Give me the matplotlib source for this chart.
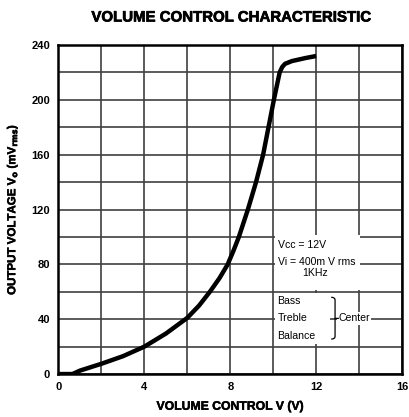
import matplotlib
matplotlib.use("Agg")
import matplotlib.pyplot as plt
from matplotlib.patches import Rectangle, PathPatch
from matplotlib.path import Path
import matplotlib.patheffects as pe

# Data
vol_ctrl = [0, 0.65, 1, 2, 3, 4, 5, 6, 6.55, 7.05, 7.5, 7.88, 8.15, 8.4, 8.82, 9.2, 9.53, 9.78, 10.03, 10.3, 10.42, 10.55, 10.87, 11.5, 12]
out_volt = [0, 0, 2.5, 7.5, 13, 20, 29.5, 41, 50, 60, 70, 80, 90, 100, 120, 140, 160, 180, 200, 220, 224, 226.3, 228.3, 230.5, 232]
x_ticks = [0, 4, 8, 12, 16]
y_ticks = [0, 40, 80, 120, 160, 200, 240]

plt.rcParams['font.family'] = ['Liberation Sans', 'DejaVu Sans']

fig = plt.figure(figsize=(4.09, 4.17), dpi=100)
ax = fig.add_axes([0.143, 0.103, 0.840, 0.789])

ax.set_xlim(0, 16)
ax.set_ylim(0, 240)
ax.set_xticks(x_ticks)
ax.set_yticks(y_ticks)
ax.set_xticks(range(0, 17, 2), minor=True)
ax.set_yticks(range(0, 241, 20), minor=True)
ax.grid(which='both', color='#404040', linewidth=1.2, zorder=0)
ax.set_axisbelow(True)
ax.tick_params(which='both', length=0, labelsize=8, pad=6)
for lab in ax.get_xticklabels() + ax.get_yticklabels():
    lab.set_fontweight('bold')
for s in ax.spines.values():
    s.set_linewidth(1.8)
    s.set_color('black')

ax.plot(vol_ctrl, out_volt, color='black', linewidth=3.2, solid_capstyle='butt',
        solid_joinstyle='round', zorder=5)

# White boxes that mask the grid behind annotations
ax.add_patch(Rectangle((10.06, 61.5), 4.0, 39.8, facecolor='white', edgecolor='none', zorder=3))
ax.add_patch(Rectangle((10.06, 22), 2.6, 37, facecolor='white', edgecolor='none', zorder=3))

tk = dict(fontsize=7.6, zorder=6, va='center')
ax.text(10.2, 94, 'Vcc = 12V', ha='left', **tk)
ax.text(10.2, 82, 'Vi = 400m V rms', ha='left', **tk)
ax.text(11.95, 73.5, '1KHz', ha='center', **tk)
ax.text(10.2, 53, 'Bass', ha='left', **tk)
ax.text(10.2, 40.6, 'Treble', ha='left', **tk)
ax.text(10.2, 27.7, 'Balance', ha='left', **tk)
ax.text(13.02, 40.6, 'Center', ha='left', bbox=dict(facecolor='white', edgecolor='none', pad=1), **tk)

# curly brace
bx, ytop, ybot, ymid = 12.7, 56, 25.5, 40.6
w = 0.18
verts = [(bx, ytop), (bx + w, ytop), (bx + w, ytop - 2), (bx + w, ymid + 3),
         (bx + w, ymid + 0.5), (bx + w, ymid), (bx + 2 * w, ymid),
         (bx + w, ymid), (bx + w, ymid - 0.5), (bx + w, ymid - 3),
         (bx + w, ybot + 2), (bx + w, ybot), (bx, ybot)]
codes = [Path.MOVETO, Path.CURVE3, Path.CURVE3, Path.LINETO,
         Path.CURVE3, Path.CURVE3, Path.LINETO,
         Path.MOVETO, Path.CURVE3, Path.CURVE3, Path.LINETO,
         Path.CURVE3, Path.CURVE3]
ax.add_patch(PathPatch(Path(verts, codes), facecolor='none', edgecolor='black', linewidth=0.9, zorder=6))

heavy = [pe.withStroke(linewidth=0.5, foreground='black')]
fig.text(0.565, 0.958, 'VOLUME CONTROL CHARACTERISTIC', ha='center', va='center',
         fontsize=10.8, fontweight='bold', path_effects=heavy)
ax.set_xlabel('VOLUME CONTROL V (V)', fontsize=8.8, fontweight='bold', labelpad=6,
              path_effects=[pe.withStroke(linewidth=0.35, foreground='black')])
ax.set_ylabel(r'OUTPUT VOLTAGE V$_\mathbf{o}$ (mV$_\mathbf{rms}$)', fontsize=8.3, fontweight='bold',
              labelpad=8, path_effects=[pe.withStroke(linewidth=0.35, foreground='black')])

fig.savefig('out.png', dpi=100)
